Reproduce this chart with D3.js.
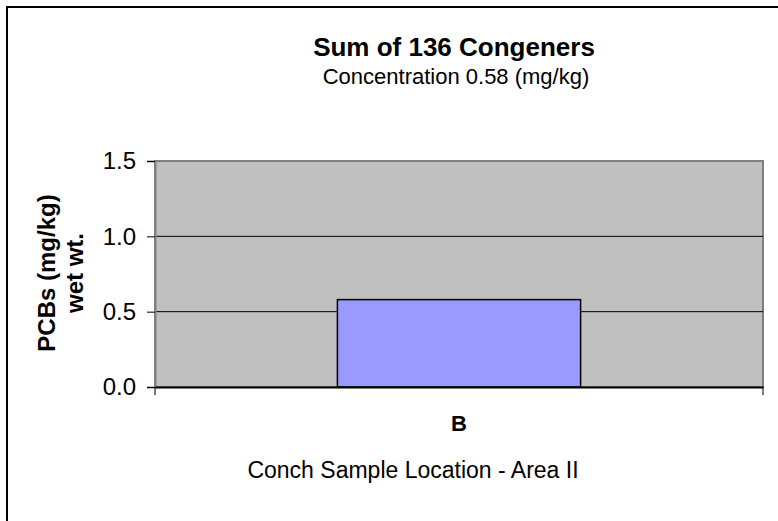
<!DOCTYPE html>
<html>
<head>
<meta charset="utf-8">
<script src="https://cdn.jsdelivr.net/npm/d3@7"></script>
<style>
  body { margin: 0; background: #fff; }
  text { font-family: "Liberation Sans", Arial, sans-serif; fill: #000; }
</style>
</head>
<body>
<svg id="chart" width="778" height="521"></svg>
<script>
// data
const categories = ["B"];
const values = [0.58];
const yTicks = [0, 0.5, 1.0, 1.5];

const titleText = "Sum of 136 Congeners";
const subtitleText = "Concentration 0.58 (mg/kg)";
const xTitle = "Conch Sample Location - Area II";
const yTitleLines = ["PCBs (mg/kg)", "wet wt."];

const svg = d3.select("#chart");

// outer frame, runs off the right and bottom edges
svg.append("rect")
    .attr("x", 7).attr("y", 7)
    .attr("width", 800).attr("height", 540)
    .attr("fill", "none").attr("stroke", "#000").attr("stroke-width", 2);

const plot = {left: 155, top: 161, right: 763, bottom: 387};

const x = d3.scaleBand().domain(categories)
    .range([plot.left, plot.right])
    .paddingInner(0).paddingOuter(0.75);
const y = d3.scaleLinear().domain([0, 1.5]).range([plot.bottom, plot.top]);

// plot background
svg.append("rect")
    .attr("x", plot.left).attr("y", plot.top)
    .attr("width", plot.right - plot.left).attr("height", plot.bottom - plot.top)
    .attr("fill", "#c0c0c0").attr("stroke", "#808080").attr("stroke-width", 2);

// gridlines
svg.selectAll(".grid").data(yTicks.filter(d => d > 0 && d < 1.5)).enter()
    .append("line").attr("class", "grid")
    .attr("x1", plot.left).attr("x2", plot.right)
    .attr("y1", d => y(d)).attr("y2", d => y(d))
    .attr("stroke", "#000").attr("stroke-width", 1);

// bars
svg.selectAll(".bar").data(values).enter()
    .append("rect").attr("class", "bar")
    .attr("x", (d, i) => x(categories[i]))
    .attr("y", d => y(d))
    .attr("width", x.bandwidth())
    .attr("height", d => y(0) - y(d))
    .attr("fill", "#9999ff").attr("stroke", "#000").attr("stroke-width", 1.5);

// y axis
const yAxis = svg.append("g")
    .attr("transform", `translate(${plot.left},0)`)
    .call(d3.axisLeft(y).tickValues(yTicks).tickFormat(d3.format(".1f")).tickSize(8).tickPadding(11));
yAxis.select(".domain").attr("stroke", "#808080").attr("stroke-width", 2);
yAxis.selectAll(".tick line").attr("stroke", "#000");
yAxis.selectAll(".tick text").style("font-size", "24px").attr("fill", "#000");

// x axis
const xAxis = svg.append("g")
    .attr("transform", `translate(0,${plot.bottom})`)
    .call(d3.axisBottom(x).tickSize(0).tickPadding(28));
xAxis.select(".domain").attr("stroke", "#000").attr("stroke-width", 2);
xAxis.selectAll(".tick text").style("font-size", "22px").style("font-weight", "bold").attr("fill", "#000");
// ticks at the category edges
xAxis.selectAll(".edge").data([plot.left, plot.right]).enter()
    .append("line").attr("class", "edge")
    .attr("x1", d => d).attr("x2", d => d)
    .attr("y1", 0).attr("y2", 8)
    .attr("stroke", "#000");

// titles
svg.append("text").attr("x", 454).attr("y", 56)
    .attr("text-anchor", "middle")
    .style("font-size", "26px").style("font-weight", "bold")
    .text(titleText);
svg.append("text").attr("x", 456).attr("y", 84)
    .attr("text-anchor", "middle")
    .style("font-size", "22px")
    .text(subtitleText);
svg.append("text").attr("x", 413).attr("y", 478)
    .attr("text-anchor", "middle")
    .style("font-size", "23px")
    .text(xTitle);

const yt = svg.append("text")
    .attr("transform", "translate(55,273) rotate(-90)")
    .attr("text-anchor", "middle")
    .style("font-size", "24px").style("font-weight", "bold");
yt.selectAll("tspan").data(yTitleLines).enter()
    .append("tspan").attr("x", 0).attr("dy", (d, i) => i === 0 ? 0 : 28)
    .text(d => d);
</script>
</body>
</html>
